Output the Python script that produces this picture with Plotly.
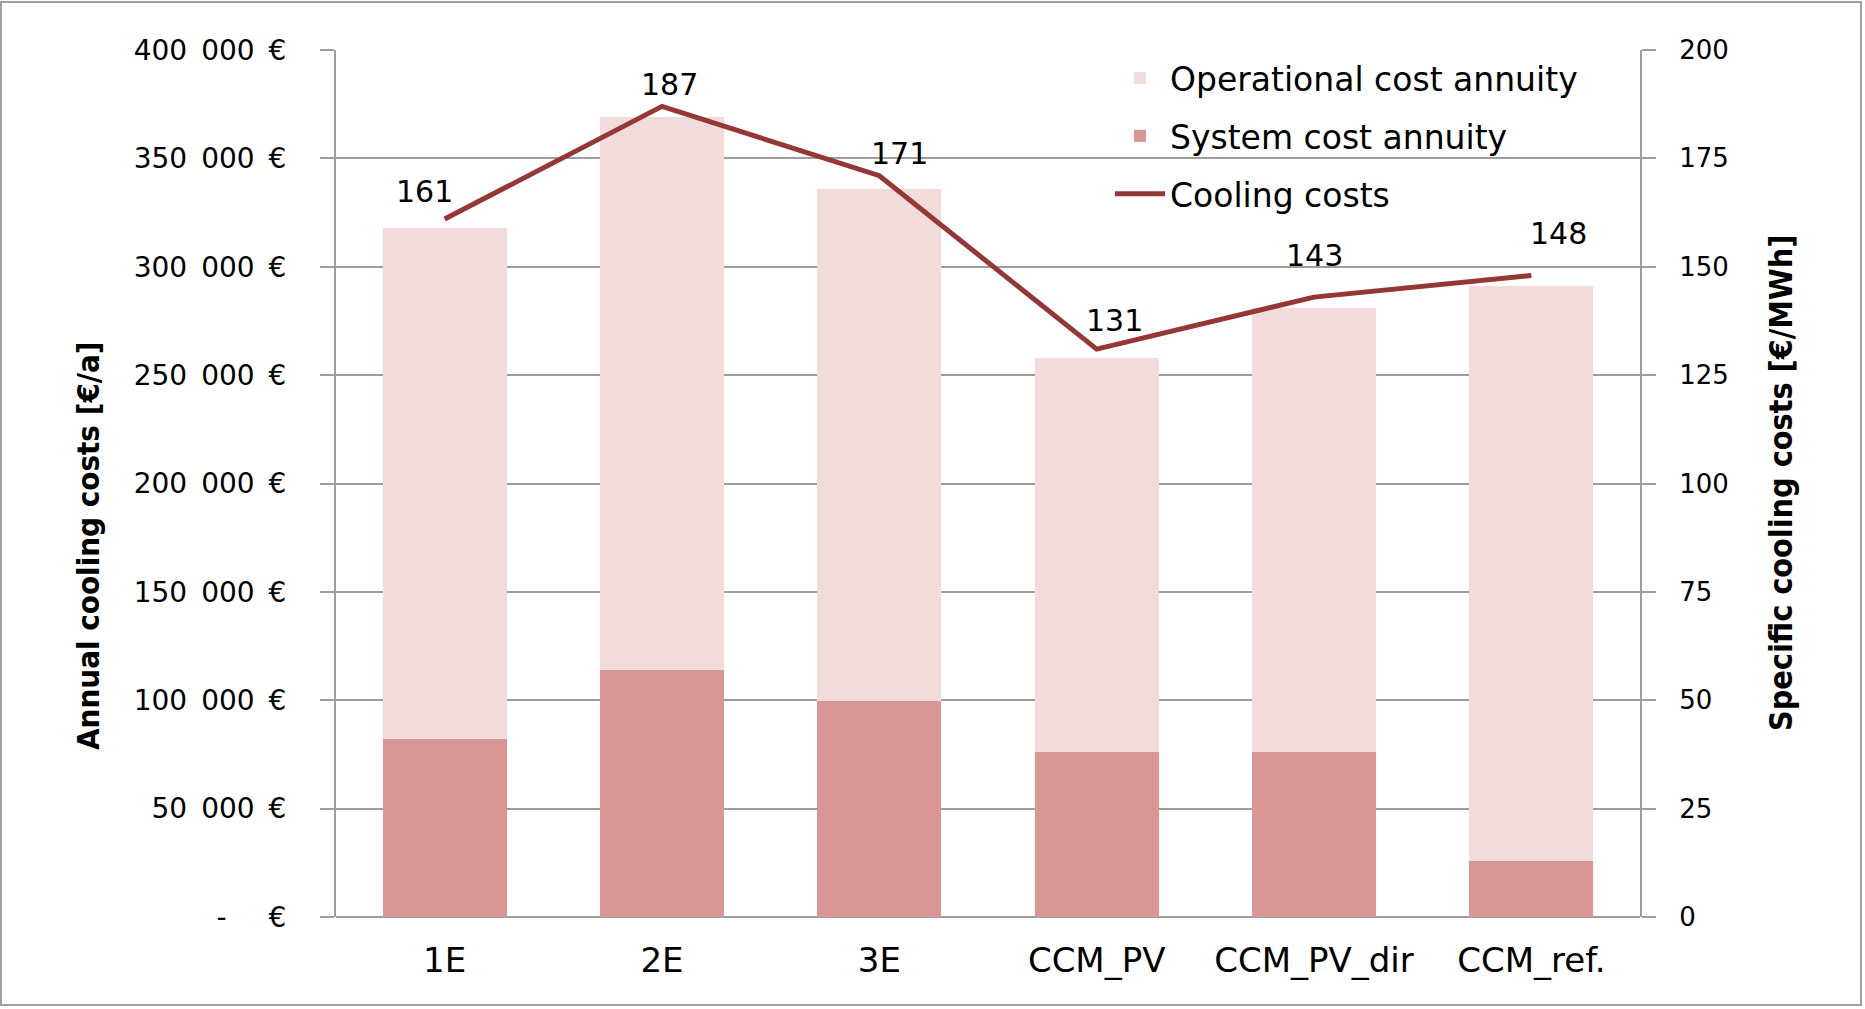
import plotly.graph_objects as go

categories = ["1E", "2E", "3E", "CCM_PV", "CCM_PV_dir", "CCM_ref."]
system_cost = [82000, 114000, 99500, 76000, 76000, 26000]
total_cost = [318000, 369000, 336000, 258000, 281000, 291000]
operational_cost = [t - s for t, s in zip(total_cost, system_cost)]
specific_cost = [161, 187, 171, 131, 143, 148]
left_ticks = [0, 50000, 100000, 150000, 200000, 250000, 300000, 350000, 400000]
left_ticklabels = ["-\u2002\u2002\u2002€", "50\u2002000\u2002€", "100\u2002000\u2002€", "150\u2002000\u2002€",
                   "200\u2002000\u2002€", "250\u2002000\u2002€", "300\u2002000\u2002€",
                   "350\u2002000\u2002€", "400\u2002000\u2002€"]
right_ticks = [0, 25, 50, 75, 100, 125, 150, 175, 200]
# label offsets (pixels) relative to each line point
label_dx = [-20, 7, 20, 18, 0, 27]
label_dy = [28, 22, 22, 29, 42, 42]

W, H = 1865, 1009
L, R, T, B = 336, 1640, 50, 917

TICKFONT = dict(family="DejaVu Sans", size=26, color="#000000")
TITLEFONT = dict(family="Liberation Sans Narrow, DejaVu Sans Condensed, Roboto Condensed, DejaVu Sans",
                 size=31, color="#000000")
GRID = "#9E9E9E"

fig = go.Figure()
fig.add_trace(go.Bar(
    x=categories, y=system_cost, name="System cost annuity",
    marker=dict(color="#D99694", line=dict(width=0)),
    legendrank=2, legendgroup="b",
))
fig.add_trace(go.Bar(
    x=categories, y=operational_cost, name="Operational cost annuity",
    marker=dict(color="#F2DCDB", line=dict(width=0)),
    legendrank=1, legendgroup="a",
))
fig.add_trace(go.Scatter(
    x=categories, y=specific_cost, name="Cooling costs", yaxis="y2",
    mode="lines",
    line=dict(color="#953735", width=5),
    legendrank=3, legendgroup="c",
))

annotations = [
    dict(x=c, y=v, xref="x", yref="y2", text=str(v), showarrow=False,
         xanchor="center", yanchor="middle", xshift=dx, yshift=dy,
         font=dict(family="DejaVu Sans", size=30, color="#000000"))
    for c, v, dx, dy in zip(categories, specific_cost, label_dx, label_dy)
]
annotations += [
    dict(text="<b>Annual cooling costs [€/a]</b>", textangle=-90,
         xref="paper", yref="paper",
         x=(88 - L) / (R - L), y=1 - (545 - T) / (B - T),
         xanchor="center", yanchor="middle", showarrow=False, font=TITLEFONT),
    dict(text="<b>Specific cooling costs [€/MWh]</b>", textangle=-90,
         xref="paper", yref="paper",
         x=(1781 - L) / (R - L), y=1 - (483 - T) / (B - T),
         xanchor="center", yanchor="middle", showarrow=False,
         font=dict(TITLEFONT, size=32)),
]

fig.update_layout(
    width=W, height=H,
    margin=dict(l=L, r=W - R, t=T, b=H - B, autoexpand=False),
    paper_bgcolor="white", plot_bgcolor="white",
    barmode="stack", bargap=0.43,
    showlegend=True,
    legend=dict(
        x=(1110 - L) / (R - L), xanchor="left", y=1.0, yanchor="top",
        font=dict(family="DejaVu Sans", size=33, color="#000000"),
        bgcolor="rgba(0,0,0,0)", traceorder="grouped", tracegroupgap=12,
        itemwidth=50,
    ),
    xaxis=dict(
        showgrid=False, ticks="", showline=False,
        tickfont=dict(family="DejaVu Sans", size=34, color="#000000"),
        ticklabelstandoff=20,
    ),
    yaxis=dict(
        range=[0, 400000], tickvals=left_ticks, ticktext=left_ticklabels,
        showgrid=True, gridcolor=GRID, gridwidth=2,
        showline=True, linecolor=GRID, linewidth=2,
        ticks="outside", ticklen=14, tickcolor=GRID, tickwidth=2,
        tickfont=dict(TICKFONT, size=28), ticklabelstandoff=28,
        zeroline=True, zerolinecolor=GRID, zerolinewidth=2,
    ),
    yaxis2=dict(
        range=[0, 200], tickvals=right_ticks, overlaying="y", side="right",
        showgrid=False, showline=True, linecolor=GRID, linewidth=2,
        ticks="outside", ticklen=14, tickcolor=GRID, tickwidth=2,
        tickfont=TICKFONT, ticklabelstandoff=18, zeroline=False,
    ),
    annotations=annotations,
    shapes=[
        dict(type="rect", xref="paper", yref="paper",
             x0=(1 - L) / (R - L), x1=(1861 - L) / (R - L),
             y0=1 - (1005 - T) / (B - T), y1=1 - (2 - T) / (B - T),
             line=dict(color="#A0A0A0", width=2), fillcolor="rgba(0,0,0,0)", layer="below"),
    ],
)

fig.write_html(
    "out.html",
    config={"displayModeBar": False},
    post_script="document.body.style.margin='0';document.body.style.overflow='hidden';",
)
